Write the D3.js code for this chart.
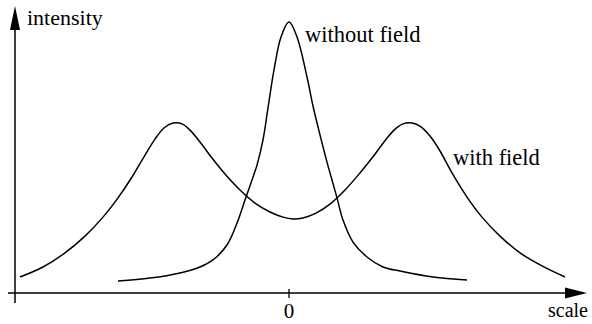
<!DOCTYPE html>
<html>
<head>
<meta charset="utf-8">
<script src="https://cdn.jsdelivr.net/npm/d3@7"></script>
<style>
  body { margin: 0; background: #fff; }
  svg text { font-family: "Liberation Serif", "DejaVu Serif", serif; }
</style>
</head>
<body>
<svg id="chart" width="592" height="324"></svg>
<script>
// Spectral line profile: position on the scale (arbitrary units, 0 = line centre)
const withoutFieldScale = [-17.1, -13.9, -10.9, -8.9, -7.6, -6.2, -5.2, -4.4, -3.7, -3.2, -2.6, -2.1, -1.5, -0.8, 0.0,
                           0.8, 1.8, 2.4, 2.9, 3.3, 3.8, 4.3, 4.8, 5.4, 6.4, 7.8, 9.4, 11.1, 14.4, 17.8];
const withoutFieldIntensity = [0.044, 0.055, 0.074, 0.096, 0.122, 0.177, 0.258, 0.343, 0.417, 0.472, 0.565, 0.683, 0.823, 0.945, 1.000,
                               0.945, 0.797, 0.690, 0.613, 0.554, 0.483, 0.417, 0.351, 0.269, 0.188, 0.133, 0.096, 0.081, 0.059, 0.048];

// Split profile when the field is applied
const withFieldScale = [-26.9, -24.6, -22.4, -20.4, -18.6, -17.1, -15.7, -14.4, -13.4, -12.5, -11.6, -10.7, -9.9, -8.9,
                        -7.7, -6.4, -4.9, -3.4, -1.9, -0.6, 0.4, 1.4, 2.7, 4.1, 5.6, 7.1, 8.3, 9.5, 10.5, 11.4, 12.3,
                        13.2, 14.1, 15.1, 16.3, 17.8, 19.3, 21.1, 23.1, 25.3, 27.6];
const withFieldIntensity = [0.059, 0.096, 0.148, 0.210, 0.280, 0.351, 0.428, 0.509, 0.568, 0.609, 0.627, 0.624, 0.601, 0.557,
                            0.498, 0.439, 0.380, 0.332, 0.299, 0.280, 0.273, 0.277, 0.295, 0.328, 0.380, 0.443, 0.498, 0.557, 0.601, 0.624, 0.627,
                            0.613, 0.579, 0.524, 0.443, 0.354, 0.280, 0.210, 0.148, 0.100, 0.059];

const xTickValues = [0];
const xTickLabels = ["0"];
const xAxisTitle = "scale";
const yAxisTitle = "intensity";
const curveLabels = ["without field", "with field"];

const svg = d3.select("#chart");

const x = d3.scaleLinear().domain([-27.4, 29.8]).range([15, 587]);
const y = d3.scaleLinear().domain([0, 1]).range([293, 22]);

const ink = "#000";

// axes
const x0 = x.range()[0], y0 = y(0);
svg.append("line")
  .attr("x1", 8).attr("x2", 570).attr("y1", y0).attr("y2", y0)
  .attr("stroke", ink).attr("stroke-width", 1.5);
svg.append("line")
  .attr("x1", x0).attr("x2", x0).attr("y1", 303).attr("y2", 25)
  .attr("stroke", ink).attr("stroke-width", 1.5);

// arrow heads
svg.append("path")
  .attr("d", `M${x.range()[1]},${y0} L${x.range()[1] - 22},${y0 - 5.5} L${x.range()[1] - 22},${y0 + 5.5} Z`)
  .attr("fill", ink);
svg.append("path")
  .attr("d", `M${x0},6 L${x0 - 5},30 L${x0 + 5},30 Z`)
  .attr("fill", ink);

// ticks and tick labels
xTickValues.forEach((v, i) => {
  svg.append("line")
    .attr("x1", x(v)).attr("x2", x(v)).attr("y1", y0 - 4).attr("y2", y0 + 5)
    .attr("stroke", ink).attr("stroke-width", 1.3);
  svg.append("text")
    .attr("x", x(v)).attr("y", 318)
    .attr("text-anchor", "middle")
    .attr("font-size", 21)
    .attr("fill", ink)
    .text(xTickLabels[i]);
});

// axis titles
svg.append("text").attr("x", 27).attr("y", 25)
  .attr("font-size", 22).attr("fill", ink).text(yAxisTitle);
svg.append("text").attr("x", 588).attr("y", 317).attr("text-anchor", "end")
  .attr("font-size", 20).attr("fill", ink).text(xAxisTitle);

// profiles
const line = d3.line()
  .x(d => x(d[0]))
  .y(d => y(d[1]))
  .curve(d3.curveCatmullRom.alpha(0.5));

const series = [
  d3.zip(withoutFieldScale, withoutFieldIntensity),
  d3.zip(withFieldScale, withFieldIntensity)
];

svg.selectAll("path.profile")
  .data(series)
  .join("path")
  .attr("class", "profile")
  .attr("d", line)
  .attr("fill", "none")
  .attr("stroke", ink)
  .attr("stroke-width", 1.5);

// curve labels
svg.append("text").attr("x", 305).attr("y", 42)
  .attr("font-size", 22.5).attr("fill", ink).text(curveLabels[0]);
svg.append("text").attr("x", 453).attr("y", 165)
  .attr("font-size", 22.5).attr("fill", ink).text(curveLabels[1]);
</script>
</body>
</html>
